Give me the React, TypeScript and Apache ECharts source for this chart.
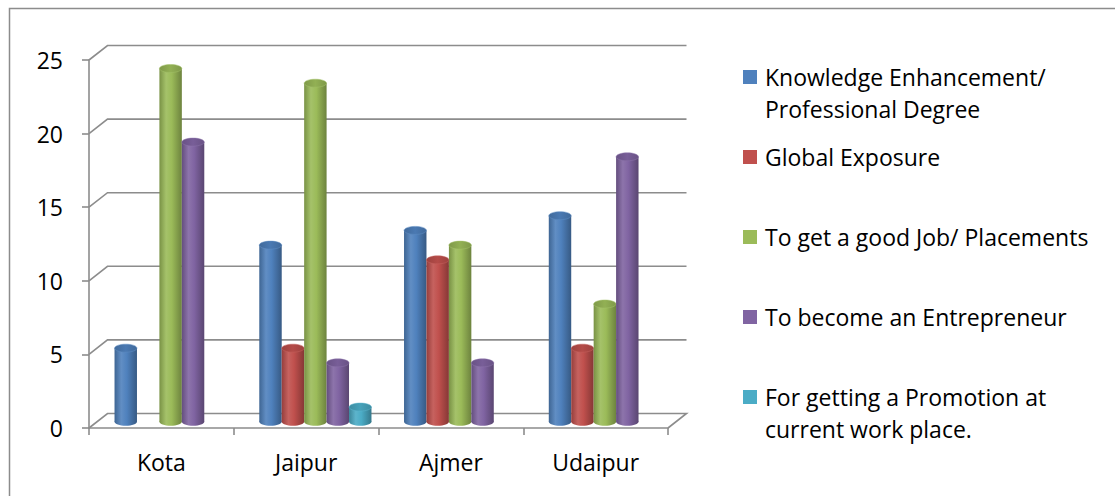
import React, { useEffect, useRef } from 'react';
import * as echarts from 'echarts';

// Reasons for pursuing higher studies, by city
const cities = ['Kota', 'Jaipur', 'Ajmer', 'Udaipur'];
const seriesNames = [
  'Knowledge Enhancement/\nProfessional Degree',
  'Global Exposure',
  'To get a good Job/ Placements',
  'To become an Entrepreneur',
  'For getting a Promotion at\ncurrent work place.',
];
const knowledge = [5, 12, 13, 14];
const globalExposure = [0, 5, 11, 5];
const goodJob = [24, 23, 12, 8];
const entrepreneur = [19, 4, 4, 18];
const promotion = [0, 1, 0, 0];
const yTicks = [0, 5, 10, 15, 20, 25];

const seriesValues = [knowledge, globalExposure, goodJob, entrepreneur, promotion];
const colors = ['#4F81BD', '#C0504D', '#9BBB59', '#8064A2', '#4BACC6'];

const FONT = "'Open Sans', Lato, sans-serif";
const FONT_SIZE = 23;
const AXIS_GRAY = '#8c8c8c';
// Oblique depth offset of the 3D box (back wall relative to the front plane)
const DX = 18.5;
const DY = -14.5;

function shade(hex: string, f: number): string {
  const n = parseInt(hex.slice(1), 16);
  const ch = [(n >> 16) & 255, (n >> 8) & 255, n & 255].map((c) => {
    const v = f >= 1 ? c + (255 - c) * (f - 1) : c * f;
    return Math.max(0, Math.min(255, Math.round(v)));
  });
  return '#' + ch.map((c) => c.toString(16).padStart(2, '0')).join('');
}

function bodyGradient(base: string) {
  return new echarts.graphic.LinearGradient(0, 0, 1, 0, [
    { offset: 0, color: shade(base, 0.78) },
    { offset: 0.3, color: shade(base, 1.1) },
    { offset: 0.55, color: shade(base, 1.0) },
    { offset: 1, color: shade(base, 0.7) },
  ]);
}

function topGradient(base: string) {
  return new echarts.graphic.LinearGradient(0, 0, 1, 0, [
    { offset: 0, color: shade(base, 0.82) },
    { offset: 0.5, color: shade(base, 0.94) },
    { offset: 1, color: shade(base, 0.82) },
  ]);
}

function makeCylinderRenderer(s: number) {
  const base = colors[s];
  return (params: any, api: any) => {
    const cat = api.value(0);
    const v = api.value(1);
    if (!v) return { type: 'group', children: [] };
    const top = api.coord([cat, v]);
    const bottom = api.coord([cat, 0]);
    const band = api.size([1, 0])[0];
    const w = band * 0.155;
    const cx = top[0] + (s - 2) * w + DX / 2;
    const yTop = top[1] + DY / 2 + 1;
    const yBot = bottom[1] + DY / 2 + 1;
    const rx = w / 2;
    const ry = 4;
    return {
      type: 'group',
      children: [
        {
          type: 'ellipse',
          shape: { cx, cy: yBot, rx, ry },
          style: { fill: bodyGradient(base) },
        },
        {
          type: 'rect',
          shape: { x: cx - rx, y: yTop, width: w, height: yBot - yTop },
          style: { fill: bodyGradient(base) },
        },
        {
          type: 'ellipse',
          shape: { cx, cy: yTop, rx, ry },
          style: { fill: topGradient(base), stroke: shade(base, 1.1), lineWidth: 0.5 },
        },
      ],
    };
  };
}

function renderWall(params: any, api: any) {
  const v = api.value(1);
  const p = api.coord([0, v]);
  const cs = params.coordSys;
  const x0 = cs.x;
  const x1 = cs.x + cs.width;
  const y = p[1];
  const pts: number[][] = [
    [x0, y],
    [x0 + DX, y + DY],
    [x1 + DX, y + DY],
  ];
  if (v === 0) pts.push([x1, y]);
  return {
    type: 'polyline',
    shape: { points: pts },
    style: { stroke: AXIS_GRAY, lineWidth: 1.6, fill: null },
  };
}

export default function App() {
  const ref = useRef<HTMLDivElement>(null);

  useEffect(() => {
    if (!ref.current) return;
    const chart = echarts.init(ref.current, undefined, { renderer: 'svg' });

    const legendItems: any[] = [];
    seriesNames.forEach((name, i) => {
      const top = 70 + i * 80;
      legendItems.push({
        type: 'rect',
        shape: { x: 743, y: top, width: 14, height: 14 },
        style: { fill: colors[i] },
      });
      legendItems.push({
        type: 'text',
        x: 765,
        y: top + 7 - 16,
        style: {
          text: name,
          font: `${FONT_SIZE}px ${FONT}`,
          fill: '#000',
          lineHeight: 32,
          verticalAlign: 'top',
        },
      });
    });

    chart.setOption({
      animation: false,
      backgroundColor: '#fff',
      textStyle: { fontFamily: FONT },
      grid: { left: 89, top: 60, width: 579, height: 368 },
      xAxis: {
        type: 'category',
        data: cities,
        axisLine: { lineStyle: { color: AXIS_GRAY, width: 1.6 } },
        axisTick: { show: true, length: 7, lineStyle: { color: AXIS_GRAY, width: 1.6 } },
        axisLabel: { fontSize: FONT_SIZE, color: '#000', margin: 22, fontFamily: FONT },
      },
      yAxis: {
        type: 'value',
        min: 0,
        max: 25,
        interval: 5,
        axisLine: { show: true, lineStyle: { color: AXIS_GRAY, width: 1.6 } },
        axisTick: { show: true, length: 7, lineStyle: { color: AXIS_GRAY, width: 1.6 } },
        splitLine: { show: false },
        axisLabel: { fontSize: FONT_SIZE, color: '#000', margin: 26, fontFamily: FONT },
      },
      graphic: [
        {
          type: 'rect',
          shape: { x: 9.5, y: 8.5, width: 1200, height: 600 },
          style: { fill: null, stroke: AXIS_GRAY, lineWidth: 1.5 },
          silent: true,
        },
        ...legendItems,
      ],
      series: [
        {
          type: 'custom',
          name: 'wall',
          clip: false,
          z: 1,
          renderItem: renderWall,
          data: yTicks.map((v) => [0, v]),
        },
        ...seriesValues.map((vals, s) => ({
          type: 'custom',
          name: seriesNames[s],
          clip: false,
          z: 3,
          renderItem: makeCylinderRenderer(s),
          data: vals.map((v, i) => [i, v]),
        })),
      ],
    });

    return () => chart.dispose();
  }, []);

  return (
    <div
      ref={ref}
      style={{ position: 'fixed', left: 0, top: 0, width: 1115, height: 496, background: '#fff' }}
    />
  );
}
